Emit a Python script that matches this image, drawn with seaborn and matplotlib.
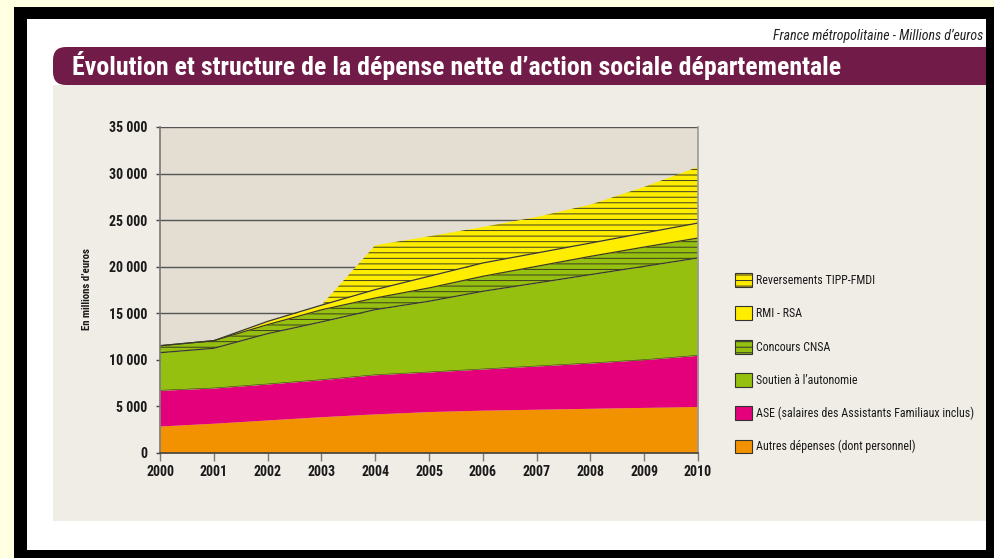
import matplotlib
matplotlib.use("Agg")
import matplotlib.pyplot as plt
import seaborn as sns
import numpy as np
from matplotlib.patches import Rectangle, FancyBboxPatch, Patch
from matplotlib.ticker import FuncFormatter

# Données (millions d'euros)
annees = [2000, 2001, 2002, 2003, 2004, 2005, 2006, 2007, 2008, 2009, 2010]
autres = [2900, 3200, 3550, 3900, 4200, 4450, 4600, 4700, 4800, 4900, 5000]
ase = [3830, 3780, 3860, 3970, 4200, 4250, 4420, 4640, 4860, 5120, 5490]
autonomie = [4040, 4260, 5400, 6200, 6990, 7590, 8340, 8910, 9490, 10020, 10450]
cnsa = [750, 820, 970, 1300, 1250, 1430, 1610, 1790, 1960, 2070, 2140]
rmi = [0, 0, 350, 500, 900, 1250, 1430, 1430, 1430, 1510, 1610]
tipp = [0, 0, 0, 0, 4760, 4290, 3860, 3870, 4130, 4950, 6020]

series = ["Autres dépenses (dont personnel)",
          "ASE (salaires des Assistants Familiaux inclus)",
          "Soutien à l\u2019autonomie",
          "Concours CNSA",
          "RMI - RSA",
          "Reversements TIPP-FMDI"]
couleurs = ["#F39200", "#E3007A", "#95C00F", "#95C00F", "#FFED00", "#FFED00"]
hachures = [None, None, None, "---", None, "---"]

titre = "Évolution et structure de la dépense nette d\u2019action sociale départementale"
sous_titre = "France métropolitaine - Millions d\u2019euros"

sns.set_theme(style="white")
FONT = ["Roboto Condensed", "Liberation Sans Narrow", "Roboto", "DejaVu Sans"]
plt.rcParams["font.family"] = FONT
HATCH_COL = "#3d3d22"
plt.rcParams["hatch.color"] = HATCH_COL
plt.rcParams["hatch.linewidth"] = 0.7

W, H = 994, 558
fig = plt.figure(figsize=(W / 100, H / 100), dpi=100)
fig.patch.set_facecolor("#FFFFE1")


def px(x, y, w, h):
    # rectangle en pixels (origine en haut à gauche) -> pouces
    return (x / 100, (H - y - h) / 100), w / 100, h / 100


tr = fig.dpi_scale_trans
xy, w, h = px(14, 7, 980, 551)
fig.patches.append(Rectangle(xy, w, h, transform=tr, facecolor="black", lw=0, zorder=-10))
xy, w, h = px(27, 19, 959, 531)
blanc = Rectangle(xy, w, h, transform=tr, facecolor="white", lw=0, zorder=-9)
fig.patches.append(blanc)
xy, w, h = px(53, 85, 933, 436)
fig.patches.append(Rectangle(xy, w, h, transform=tr, facecolor="#F0EDE6", lw=0, zorder=-8))
xy, w, h = px(53, 47, 960, 38)
bandeau = FancyBboxPatch(xy, w, h, boxstyle="round,pad=0,rounding_size=0.13",
                         transform=tr, facecolor="#701B48", lw=0, zorder=-7)
fig.patches.append(bandeau)
bandeau.set_clip_path(blanc)

fig.text(72 / W, 1 - 66 / H, titre, color="white", fontsize=18.6, fontweight="bold",
         va="center", ha="left")
t = fig.text(773 / W, 1 - 36 / H, sous_titre, color="#222222", fontsize=10,
             fontstyle="italic", va="center", ha="left")
t.set_clip_path(blanc)

ax = fig.add_axes([160 / W, 1 - 453 / H, 538 / W, 326 / H])
ax.set_facecolor("#E3DDD2")
ax.set_axisbelow(True)

polys = ax.stackplot(annees, autres, ase, autonomie, cnsa, rmi, tipp,
                     colors=couleurs, labels=series, lw=0)
for p, hch in zip(polys, hachures):
    p.set_edgecolor(HATCH_COL)
    p.set_linewidth(0)
    if hch:
        p.set_hatch(hch)

# lignes de séparation entre les couches supérieures
cumul = np.cumsum(np.array([autres, ase, autonomie, cnsa, rmi]), axis=0)
for k in (1, 2, 3, 4):
    sns.lineplot(x=annees, y=cumul[k], ax=ax, color="#3a3a2a",
                 lw=0.9 if k > 1 else 0.4, legend=False)

ax.set_xlim(2000, 2010)
ax.set_ylim(0, 35000)
ax.set_xticks(annees)
ax.set_yticks(range(0, 35001, 5000))
ax.yaxis.set_major_formatter(FuncFormatter(lambda v, _: f"{int(v):,}".replace(",", " ")))
ax.yaxis.grid(True, color="#555555", lw=1)
ax.xaxis.grid(False)

ax.spines["top"].set_visible(False)
ax.spines["left"].set_color("#777777")
ax.spines["right"].set_color("#9a9a9a")
ax.spines["bottom"].set_color("#444444")
for s in ax.spines.values():
    s.set_linewidth(1.2)

ax.tick_params(axis="y", length=3, width=1, color="#444444", pad=6,
               labelsize=10, labelcolor="#1a1a1a", left=True)
ax.tick_params(axis="x", length=6, width=1, color="#777777", pad=3,
               labelsize=10, labelcolor="#1a1a1a", bottom=True)
for lab in ax.get_xticklabels() + ax.get_yticklabels():
    lab.set_fontweight("bold")

fig.text(87 / W, 1 - 289 / H, "En millions d\u2019euros", rotation=90,
         fontsize=7.8, fontweight="bold", color="#1a1a1a", va="center", ha="center")

handles = [Patch(facecolor=c, edgecolor="#333333", hatch=hc, lw=0.8, label=l)
           for c, hc, l in zip(couleurs, hachures, series)]
fs = 8.6
fig.legend(handles[::-1], series[::-1], loc="upper left",
           bbox_to_anchor=(735 / W, 1 - 273 / H), bbox_transform=fig.transFigure,
           frameon=False, prop={"size": fs},
           handlelength=1.42, handleheight=1.42, handletextpad=0.3,
           labelspacing=1.62, borderpad=0, borderaxespad=0,
           labelcolor="#1a1a1a")

fig.savefig("out.png", dpi=100, facecolor=fig.get_facecolor())
